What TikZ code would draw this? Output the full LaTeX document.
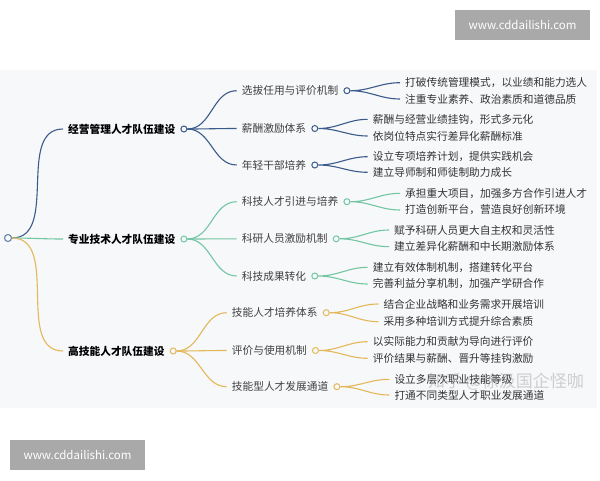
\documentclass[tikz,border=0pt]{standalone}
\usepackage{fontspec}
\setmainfont{Noto Sans CJK SC}
\usetikzlibrary{positioning}
\definecolor{mgblue}{HTML}{3B5B8A}
\definecolor{tkgreen}{HTML}{72C6A2}
\definecolor{skgold}{HTML}{E4B85A}
\definecolor{bgpaper}{HTML}{F7F8FA}
\definecolor{wmgray}{HTML}{A9A9A9}
\begin{document}
\begin{tikzpicture}[x=1pt,y=-1pt,
    every node/.style={font=\fontsize{10.7}{12}\selectfont},
    main/.style={anchor=west,inner sep=0pt,inner xsep=5pt,text=black,
                 font=\fontsize{10.7}{12}\selectfont\bfseries},
    sub/.style={anchor=west,inner sep=0pt,inner xsep=5pt,text=black!75},
    leaf/.style={anchor=west,inner sep=0pt,inner xsep=5pt,text=black!80},
    dot/.style={circle,draw,fill=bgpaper,inner sep=0pt,minimum size=6pt,line width=1pt},
    link/.style={line width=1.1pt},
    wmbox/.style={fill=wmgray,text=white,minimum width=135pt,minimum height=30pt,
                  inner sep=0pt,font=\fontsize{11.5}{13}\selectfont}]

    \useasboundingbox (0,0) rectangle (600,480);
    \fill[bgpaper] (0,70) rectangle (597,408);

    % root
    \node[dot,draw=mgblue!80,minimum size=7pt] (root) at (8,238) {};

    % main branches
    \node[main] (m1) at (63,129) {经营管理人才队伍建设};
    \node[main] (m2) at (63,239) {专业技术人才队伍建设};
    \node[main] (m3) at (63,351) {高技能人才队伍建设};
    \node[dot,draw=mgblue,anchor=west] (m1c) at (m1.east) {};
    \node[dot,draw=tkgreen,anchor=west] (m2c) at (m2.east) {};
    \node[dot,draw=skgold,anchor=west] (m3c) at (m3.east) {};

    \draw[link,mgblue] (root.east) to[out=0,in=180] (m1.west);
    \draw[link,tkgreen] (root.east) to[out=0,in=180] (m2.west);
    \draw[link,skgold] (root.east) to[out=0,in=180] (m3.west);

    % sub branches
    \node[sub] (s11) at (236.7,90.7) {选拔任用与评价机制};
    \node[sub] (s12) at (236.7,128.5) {薪酬激励体系};
    \node[sub] (s13) at (236.7,165) {年轻干部培养};
    \node[sub] (s21) at (236.7,201.7) {科技人才引进与培养};
    \node[sub] (s22) at (236.7,238.8) {科研人员激励机制};
    \node[sub] (s23) at (236.7,276) {科技成果转化};
    \node[sub] (s31) at (226.7,312.7) {技能人才培养体系};
    \node[sub] (s32) at (226.7,350.5) {评价与使用机制};
    \node[sub] (s33) at (226.7,386.7) {技能型人才发展通道};

    \foreach \n in {11,12,13}
        \node[dot,draw=mgblue,anchor=west] (c\n) at (s\n.east) {};
    \foreach \n in {21,22,23}
        \node[dot,draw=tkgreen,anchor=west] (c\n) at (s\n.east) {};
    \foreach \n in {31,32,33}
        \node[dot,draw=skgold,anchor=west] (c\n) at (s\n.east) {};

    \foreach \n in {11,12,13}
        \draw[link,mgblue] (m1c.east) to[out=0,in=180] (s\n.west);
    \foreach \n in {21,22,23}
        \draw[link,tkgreen] (m2c.east) to[out=0,in=180] (s\n.west);
    \foreach \n in {31,32,33}
        \draw[link,skgold] (m3c.east) to[out=0,in=180] (s\n.west);

    % leaves
    \node[leaf] (l11a) at (400,82.7) {打破传统管理模式，以业绩和能力选人};
    \node[leaf] (l11b) at (400,99) {注重专业素养、政治素质和道德品质};
    \node[leaf] (l12a) at (367.7,119.3) {薪酬与经营业绩挂钩，形式多元化};
    \node[leaf] (l12b) at (367.7,136) {依岗位特点实行差异化薪酬标准};
    \node[leaf] (l13a) at (367.7,156.7) {设立专项培养计划，提供实践机会};
    \node[leaf] (l13b) at (367.7,172.3) {建立导师制和师徒制助力成长};
    \node[leaf] (l21a) at (400,193.3) {承担重大项目，加强多方合作引进人才};
    \node[leaf] (l21b) at (400,210) {打造创新平台，营造良好创新环境};
    \node[leaf] (l22a) at (389,230) {赋予科研人员更大自主权和灵活性};
    \node[leaf] (l22b) at (389,246.7) {建立差异化薪酬和中长期激励体系};
    \node[leaf] (l23a) at (367.7,267.3) {建立有效体制机制，搭建转化平台};
    \node[leaf] (l23b) at (367.7,284) {完善利益分享机制，加强产学研合作};
    \node[leaf] (l31a) at (378.3,304) {结合企业战略和业务需求开展培训};
    \node[leaf] (l31b) at (378.3,321.7) {采用多种培训方式提升综合素质};
    \node[leaf] (l32a) at (367.7,341.7) {以实际能力和贡献为导向进行评价};
    \node[leaf] (l32b) at (367.7,358.3) {评价结果与薪酬、晋升等挂钩激励};
    \node[leaf] (l33a) at (389.3,379.3) {设立多层次职业技能等级};
    \node[leaf] (l33b) at (389.3,395) {打通不同类型人才职业发展通道};

    \foreach \n in {11,12,13}
        \draw[link,mgblue] (c\n.east) to[out=0,in=180] (l\n a.west)
                           (c\n.east) to[out=0,in=180] (l\n b.west);
    \foreach \n in {21,22,23}
        \draw[link,tkgreen] (c\n.east) to[out=0,in=180] (l\n a.west)
                            (c\n.east) to[out=0,in=180] (l\n b.west);
    \foreach \n in {31,32,33}
        \draw[link,skgold] (c\n.east) to[out=0,in=180] (l\n a.west)
                           (c\n.east) to[out=0,in=180] (l\n b.west);

    % watermarks
    \node[text=gray,opacity=0.35,font=\fontsize{17}{19}\selectfont] (zh) at (506,382) {知乎 @徐汲国企怪咖};
    \node[wmbox] (wmtop) at (522.5,25) {www.cddailishi.com};
    \node[wmbox] (wmbot) at (77.5,455) {www.cddailishi.com};
\end{tikzpicture}
\end{document}
